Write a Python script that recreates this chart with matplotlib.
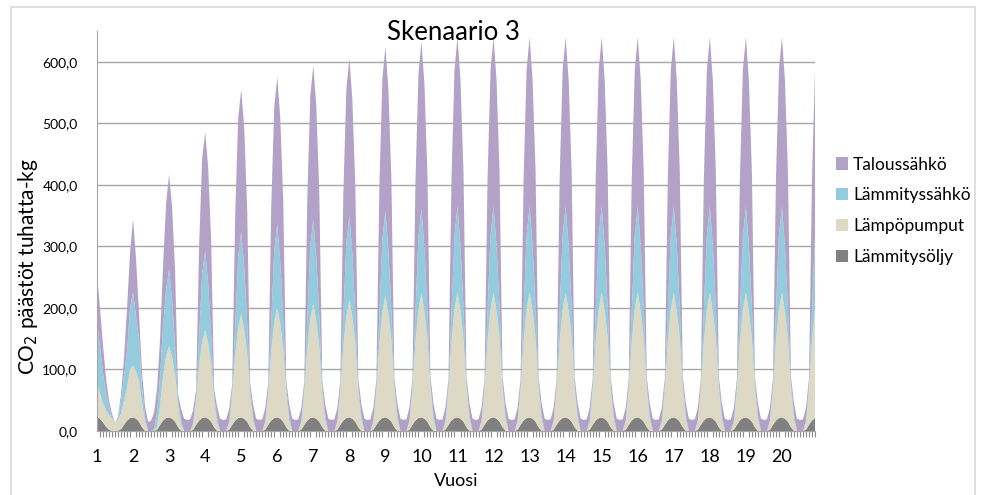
import numpy as np
import matplotlib.pyplot as plt
from matplotlib.patches import Rectangle
from matplotlib.ticker import FuncFormatter, FixedLocator, MultipleLocator

plt.rcParams['font.family'] = ['Lato', 'DejaVu Sans']

# monthly CO2 emissions (thousand kg), one row per year, Jan..Dec
oil = [
    [23, 20, 14, 7, 2, 0, 0, 0, 3, 10, 17, 21],
] + [[22, 20, 15, 6, 0, 0, 0, 0, 2, 10, 17, 21]] * 19

heat_pumps = [
    [55, 42, 31, 27, 24, 20, 12, 18, 25, 40, 53, 79],
    [85, 77, 67, 39, 15, 0, 0, 0, 6, 32, 71, 101],
    [116, 100, 77, 35, 10, 0, 0, 0, 8, 39, 90, 124],
    [142, 123, 95, 43, 13, 0, 0, 0, 10, 46, 106, 147],
    [168, 145, 112, 51, 15, 0, 0, 0, 11, 48, 113, 156],
    [179, 154, 119, 55, 16, 0, 0, 0, 11, 50, 116, 161],
    [185, 159, 123, 56, 16, 0, 0, 0, 11, 52, 120, 166],
    [191, 165, 127, 58, 17, 0, 0, 0, 12, 54, 125, 173],
    [198, 171, 132, 60, 18, 0, 0, 0, 12, 55, 127, 176],
    [202, 174, 134, 62, 18, 0, 0, 0, 12, 55, 128, 177],
] + [[203, 175, 135, 62, 18, 0, 0, 0, 12, 55, 128, 177]] * 10

heating_el = [
    [102, 75, 49, 28, 14, 3, 0.5, 2, 22, 40, 60, 100],
    [119, 88, 68, 25, 7, 0, 0, 3, 22, 48, 82, 108],
    [125, 93, 45, 9, 7, 0, 0, 0, 3, 9, 46, 110],
    [129, 97, 46, 9, 7, 0, 0, 0, 3, 10, 48, 115],
    [134, 101, 48, 10, 8, 0, 0, 0, 3, 10, 48, 116],
    [135, 101, 48, 10, 8, 0, 0, 0, 3, 10, 49, 118],
    [137, 103, 49, 10, 8, 0, 0, 0, 3, 10, 49, 118],
    [137, 103, 49, 10, 8, 0, 0, 0, 3, 10, 49, 118],
    [137, 103, 49, 10, 8, 0, 0, 0, 3, 10, 49, 118],
    [138, 103, 49, 10, 8, 0, 0, 0, 3, 10, 50, 120],
] + [[140, 105, 50, 10, 8, 0, 0, 0, 3, 10, 50, 120]] * 10

household_el = [
    [74, 63, 46, 23, 10, 5, 0.5, 3, 10, 30, 70, 90],
    [119, 95, 40, 25, 18, 15, 17, 27, 40, 60, 100, 140],
    [154, 151, 123, 10, 19, 20, 18, 19, 21, 10, 150, 188],
    [193, 189, 154, 10, 19, 20, 18, 19, 21, 10, 181, 226],
    [231, 227, 185, 10, 19, 20, 18, 19, 21, 10, 187, 234],
    [239, 235, 191, 10, 19, 20, 18, 19, 21, 10, 196, 245],
    [250, 246, 200, 10, 19, 20, 18, 19, 21, 10, 200, 250],
    [256, 251, 205, 10, 19, 20, 18, 19, 21, 10, 209, 261],
    [267, 262, 213, 10, 19, 20, 18, 19, 21, 10, 212, 265],
    [271, 266, 217, 10, 19, 20, 18, 19, 21, 10, 215, 269],
] + [[275, 270, 220, 10, 19, 20, 18, 19, 21, 10, 215, 269]] * 10

labels = ['Lämmitysöljy', 'Lämpöpumput', 'Lämmityssähkö', 'Taloussähkö']
colors = ['#808080', '#DDD9C4', '#93CDDD', '#B3A2C7']
years = [str(y) for y in range(1, 21)]

series = [np.ravel(s) for s in (oil, heat_pumps, heating_el, household_el)]
x = np.arange(len(series[0]))

fig = plt.figure(figsize=(9.81, 4.95), dpi=100)
fig.patches.append(Rectangle((11 / 981, -0.05), 964 / 981, 1.05 - 7 / 495,
                             transform=fig.transFigure, fill=False,
                             edgecolor='#d9d9d9', linewidth=1.2))

ax = fig.add_axes([97 / 981, 64 / 495, 718 / 981, 400 / 495])
ax.stackplot(x, *series, colors=colors, labels=labels, linewidth=0, zorder=2)

ax.set_xlim(0, x[-1])
ax.set_ylim(0, 650)
ax.yaxis.set_major_locator(FixedLocator(np.arange(0, 601, 100)))
ax.yaxis.set_major_formatter(FuncFormatter(lambda v, p: f'{v:.1f}'.replace('.', ',')))
ax.grid(axis='y', color='#a6a6a6', linewidth=1.0, zorder=0)
ax.set_axisbelow(True)

ax.xaxis.set_major_locator(FixedLocator(np.arange(0, 240, 12)))
ax.set_xticklabels(years)
ax.xaxis.set_minor_locator(MultipleLocator(1))
ax.tick_params(axis='x', which='major', length=0, pad=13, labelsize=13)
ax.tick_params(axis='x', which='minor', length=4, color='#8c8c8c', width=0.8)
ax.tick_params(axis='y', length=0, pad=14, labelsize=10)

for side in ('top', 'right'):
    ax.spines[side].set_visible(False)
for side in ('left', 'bottom'):
    ax.spines[side].set_color('#a6a6a6')

ax.set_ylabel('CO$_2$ päästöt tuhatta-kg', fontsize=15)
ax.yaxis.set_label_coords(-57 / 718, 0.41)
ax.set_xlabel('Vuosi', fontsize=13, labelpad=6)
fig.text(453 / 981, 1 - 33 / 495, 'Skenaario 3', ha='center', va='center',
         fontsize=18.5)

handles, labs = ax.get_legend_handles_labels()
fig.legend(handles[::-1], labs[::-1], loc='upper left',
           bbox_to_anchor=(820 / 981, 1 - 141 / 495), frameon=False,
           fontsize=12.5, handlelength=0.7, handleheight=0.7,
           handletextpad=0.3, labelspacing=0.85)

fig.savefig('out.png', dpi=100)
